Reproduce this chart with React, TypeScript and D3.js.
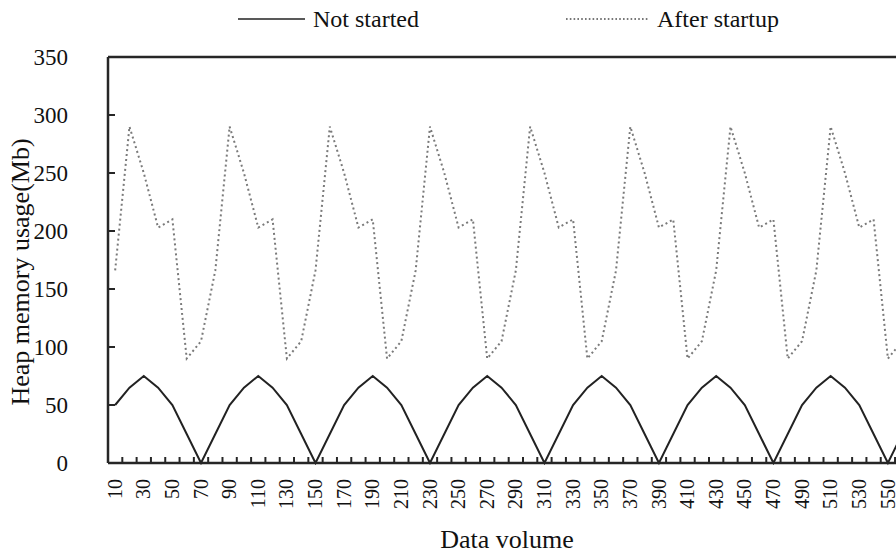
import React from "react";
import * as d3 from "d3";

const categories: number[] = [
  10, 20, 30, 40, 50, 60, 70, 80, 90, 100, 110, 120, 130, 140, 150, 160, 170, 180, 190, 200,
  210, 220, 230, 240, 250, 260, 270, 280, 290, 300, 310, 320, 330, 340, 350, 360, 370, 380, 390, 400,
  410, 420, 430, 440, 450, 460, 470, 480, 490, 500, 510, 520, 530, 540, 550, 560,
];

const notStarted: number[] = [
  50, 65, 75, 65, 50, 25, 0, 25,
  50, 65, 75, 65, 50, 25, 0, 25,
  50, 65, 75, 65, 50, 25, 0, 25,
  50, 65, 75, 65, 50, 25, 0, 25,
  50, 65, 75, 65, 50, 25, 0, 25,
  50, 65, 75, 65, 50, 25, 0, 25,
  50, 65, 75, 65, 50, 25, 0, 25,
];

const afterStartup: number[] = [
  166, 290, 250, 203, 210, 90, 105,
  166, 290, 250, 203, 210, 90, 105,
  166, 290, 250, 203, 210, 90, 105,
  166, 290, 250, 203, 210, 90, 105,
  166, 290, 250, 203, 210, 90, 105,
  166, 290, 250, 203, 210, 90, 105,
  166, 290, 250, 203, 210, 90, 105,
  166, 290, 250, 203, 210, 90, 105,
];

const yTicks: number[] = [0, 50, 100, 150, 200, 250, 300, 350];
const xTickLabels: number[] = categories.filter((_, i) => i % 2 === 0);

const seriesNames = ["Not started", "After startup"];

const W = 896;
const H = 558;
const FONT = '"Liberation Serif", "Times New Roman", serif';
const ts = { fontFamily: FONT };

export default function App() {
  const left = 108;
  const top = 57;
  const bottom = 463;
  const step = 14.31;

  const x = d3
    .scaleBand<number>()
    .domain(categories)
    .range([left, left + step * categories.length])
    .paddingInner(0)
    .paddingOuter(0);
  const y = d3.scaleLinear().domain([0, 350]).range([bottom, top]);
  const cx = (c: number) => (x(c) as number) + x.bandwidth() / 2;

  const line = d3
    .line<number>()
    .x((_, i) => cx(categories[i]))
    .y((d) => y(d));

  const right = left + step * categories.length;
  const axisColor = "#262626";

  return (
    <svg
      width={W}
      height={H}
      style={{ position: "absolute", left: 0, top: 0, background: "#fff", fontFamily: FONT }}
    >
      <rect x={0} y={0} width={W} height={H} fill="#fff" />
      {/* legend */}
      <line x1={238} x2={305} y1={19} y2={19} stroke="#222" strokeWidth={1.6} />
      <text x={313} y={19} dy="0.35em" fontSize={24} fill="#111" style={ts}>
        {seriesNames[0]}
      </text>
      <line
        x1={566}
        x2={648}
        y1={19}
        y2={19}
        stroke="#777"
        strokeWidth={1.8}
        strokeDasharray="1.6 2.2"
      />
      <text x={657} y={19} dy="0.35em" fontSize={24} fill="#111" style={ts}>
        {seriesNames[1]}
      </text>

      {/* series */}
      <path
        d={line(afterStartup) || ""}
        fill="none"
        stroke="#7a7a7a"
        strokeWidth={2}
        strokeDasharray="2 3"
      />
      <path d={line(notStarted) || ""} fill="none" stroke="#222" strokeWidth={2} />

      {/* frame / axes */}
      <line x1={left} x2={right} y1={top} y2={top} stroke={axisColor} strokeWidth={2.5} />
      <line x1={left} x2={left} y1={top} y2={bottom} stroke={axisColor} strokeWidth={2.5} />
      <line x1={left} x2={right} y1={bottom} y2={bottom} stroke={axisColor} strokeWidth={2.5} />

      {/* y ticks */}
      {yTicks.map((t) => (
        <g key={"y" + t}>
          <line x1={left} x2={left + 7} y1={y(t)} y2={y(t)} stroke={axisColor} strokeWidth={2} />
          <text x={68} y={y(t)} dy="0.35em" textAnchor="end" fontSize={23} fill="#111" style={ts}>
            {t}
          </text>
        </g>
      ))}

      {/* x ticks at category boundaries */}
      {categories.map((c) => {
        const bx = (x(c) as number) + x.bandwidth();
        return (
          <line
            key={"xt" + c}
            x1={bx}
            x2={bx}
            y1={bottom}
            y2={bottom - 6}
            stroke={axisColor}
            strokeWidth={2}
          />
        );
      })}
      {xTickLabels.map((c) => (
        <text
          key={"xl" + c}
          transform={`translate(${cx(c)},479) rotate(-90)`}
          textAnchor="end"
          dy="0.33em"
          fontSize={20}
          fill="#111"
          style={ts}
        >
          {c}
        </text>
      ))}

      {/* axis titles */}
      <text
        transform={`translate(29,272) rotate(-90)`}
        textAnchor="middle"
        fontSize={26}
        fill="#111"
        style={ts}
      >
        Heap memory usage(Mb)
      </text>
      <text x={507} y={548} textAnchor="middle" fontSize={26} fill="#111" style={ts}>
        Data volume
      </text>
    </svg>
  );
}
